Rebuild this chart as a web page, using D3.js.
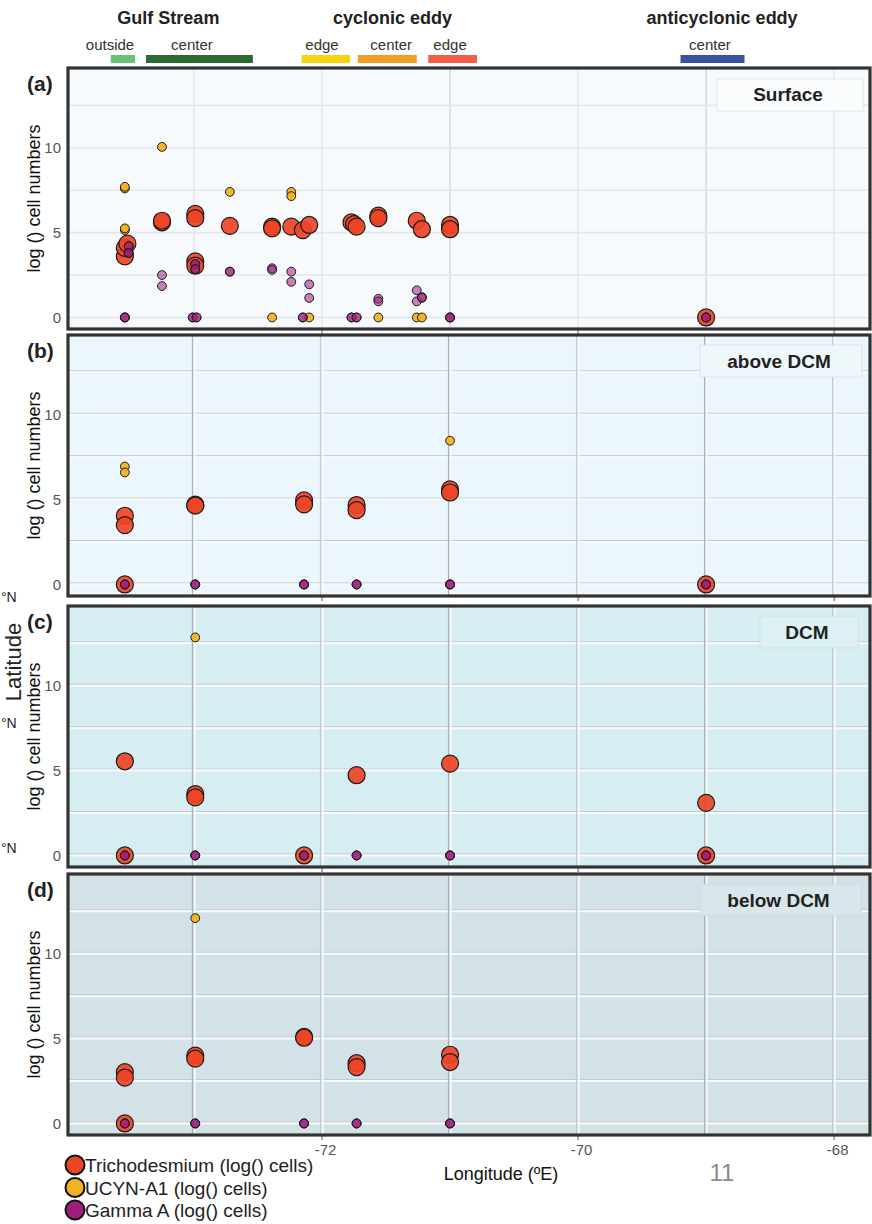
<!DOCTYPE html>
<html>
<head>
<meta charset="utf-8">
<script src="https://cdn.jsdelivr.net/npm/d3@7"></script>
<style>
  body { margin: 0; background: #fff; }
  svg { display: block; font-family: "Liberation Sans", Arial, sans-serif; }
</style>
</head>
<body>
<div id="chart"></div>
<script>
// depth layers, one facet each
var layers = ["Surface", "above DCM", "DCM", "below DCM"];
var layerTags = ["(a)", "(b)", "(c)", "(d)"];

// axis ticks
var lonTicks = [-72, -70, -68];
var lonGrid = [-73, -72, -71, -70, -69, -68];
var valueTicks = [0, 5, 10];
var valueGrid = [0, 2.5, 5, 7.5, 10, 12.5];

// header: regions and their zones (longitude spans)
var regions = ["Gulf Stream", "cyclonic eddy", "anticyclonic eddy"];
var regionLon = [-73.2, -71.45, -68.875];
var zones = ["outside", "center", "edge", "center", "edge", "center"];
var zoneLabelLon = [-73.656, -73.016, -72.0, -71.46, -71.0, -68.97];
var zoneStart = [-73.65, -73.375, -72.16, -71.72, -71.17, -69.2];
var zoneEnd = [-73.46, -72.54, -71.78, -71.26, -70.79, -68.7];
var zoneColors = ["#6bc276", "#2e6b32", "#f5d40f", "#f29e23", "#f25d4a", "#3953a4"];

// series, [longitude, log cell number] per layer
var trichoSurface = [[-73.54, 3.6], [-73.54, 4.1], [-73.52, 4.35], [-73.25, 5.6], [-73.25, 5.7],
  [-72.99, 6.1], [-72.99, 5.85], [-72.99, 3.3], [-72.99, 3.05], [-72.72, 5.4],
  [-72.39, 5.35], [-72.39, 5.25], [-72.24, 5.35], [-72.15, 5.15], [-72.1, 5.45],
  [-71.77, 5.6], [-71.75, 5.5], [-71.73, 5.35], [-71.56, 6.0], [-71.56, 5.85],
  [-71.26, 5.7], [-71.22, 5.2], [-71.0, 5.45], [-71.0, 5.2], [-69.0, 0]];
var ucynSurface = [[-73.54, 5.15], [-73.54, 5.25], [-73.54, 7.6], [-73.54, 7.7], [-73.25, 10.05],
  [-72.72, 7.4], [-72.39, 0], [-72.24, 7.4], [-72.24, 7.15], [-72.1, 0],
  [-71.56, 0], [-71.26, 0], [-71.22, 0]];
var gammaSurface = [[-73.54, 0], [-73.54, 0], [-73.54, 0], [-73.51, 4.2], [-73.51, 4.2], [-73.51, 3.8], [-73.51, 3.8],
  [-73.25, 2.5], [-73.25, 1.85], [-72.99, 3.15], [-72.99, 3.15], [-72.99, 2.85], [-72.99, 2.85],
  [-73.01, 0], [-73.01, 0], [-72.98, 0], [-72.98, 0], [-72.72, 2.7], [-72.72, 2.7],
  [-72.39, 2.9], [-72.39, 2.8], [-72.24, 2.7], [-72.24, 2.1], [-72.1, 1.95], [-72.1, 1.15],
  [-72.15, 0], [-72.15, 0], [-71.77, 0], [-71.77, 0], [-71.73, 0], [-71.73, 0],
  [-71.56, 1.1], [-71.56, 0.95], [-71.26, 1.6], [-71.26, 0.95], [-71.22, 1.2], [-71.22, 1.15],
  [-71.0, 0], [-71.0, 0], [-71.0, 0], [-69.0, 0], [-69.0, 0], [-69.0, 0]];

var trichoAbove = [[-73.54, 4.05], [-73.54, 3.5], [-73.54, 0], [-72.99, 4.7], [-72.99, 4.65],
  [-72.14, 4.95], [-72.14, 4.72], [-71.73, 4.68], [-71.73, 4.38], [-71.0, 5.6], [-71.0, 5.42], [-69.0, 0]];
var ucynAbove = [[-73.54, 6.95], [-73.54, 6.6], [-71.0, 8.47]];
var gammaAbove = [[-73.54, 0], [-73.54, 0], [-73.54, 0], [-72.99, 0], [-72.99, 0], [-72.99, 0],
  [-72.14, 0], [-72.14, 0], [-72.14, 0], [-71.73, 0], [-71.73, 0], [-71.73, 0],
  [-71.0, 0], [-71.0, 0], [-71.0, 0], [-69.0, 0], [-69.0, 0], [-69.0, 0]];

var trichoDCM = [[-73.54, 5.55], [-73.54, 0], [-72.99, 3.62], [-72.99, 3.42], [-72.14, 0],
  [-71.73, 4.73], [-71.0, 5.41], [-69.0, 3.1], [-69.0, 0]];
var ucynDCM = [[-72.99, 12.85]];
var gammaDCM = [[-73.54, 0], [-73.54, 0], [-73.54, 0], [-72.99, 0], [-72.99, 0], [-72.99, 0],
  [-72.14, 0], [-72.14, 0], [-72.14, 0], [-71.73, 0], [-71.73, 0], [-71.73, 0],
  [-71.0, 0], [-71.0, 0], [-71.0, 0], [-69.0, 0], [-69.0, 0], [-69.0, 0]];

var trichoBelow = [[-73.54, 3.02], [-73.54, 2.7], [-73.54, 0], [-72.99, 4.0], [-72.99, 3.82],
  [-72.14, 5.1], [-72.14, 5.05], [-71.73, 3.55], [-71.73, 3.32], [-71.0, 4.05], [-71.0, 3.62]];
var ucynBelow = [[-72.99, 12.1]];
var gammaBelow = [[-73.54, 0], [-73.54, 0], [-73.54, 0], [-72.99, 0], [-72.99, 0], [-72.99, 0],
  [-72.14, 0], [-72.14, 0], [-72.14, 0], [-71.73, 0], [-71.73, 0], [-71.73, 0],
  [-71.0, 0], [-71.0, 0], [-71.0, 0]];

var seriesNames = ["Trichodesmium (log() cells)", "UCYN-A1 (log() cells)", "Gamma A (log() cells)"];
var tricho = [trichoSurface, trichoAbove, trichoDCM, trichoBelow];
var ucyn = [ucynSurface, ucynAbove, ucynDCM, ucynBelow];
var gamma = [gammaSurface, gammaAbove, gammaDCM, gammaBelow];

// layout
var w = 872, h = 1224;
var left = 68, right = 870;
var panelTop = [68, 335, 606, 874];
var panelH = 261;
var panelFill = ["#f6fafd", "#ebf7fc", "#d6eef2", "#d3e2e6"];
var stripFill = ["#fafcfe", "#eef8fb", "#ddf1f4", "#d9e7ea"];
var stripBox = [[717, 863], [700, 862], [760, 858], [700, 861]];
var seriesFill = ["#ee4426", "#f0b323", "#9e1e7c"];
var seriesOpacity = [0.92, 0.95, 0.55];
var seriesR = [8.5, 4.4, 4.4];

var x = d3.scaleLinear().domain([-73.984, -67.72]).range([left, right]);
var y = d3.scaleLinear().domain([-0.68, 14.7]).range([panelH, 0]);

var svg = d3.select('#chart').append('svg')
  .attr('width', w)
  .attr('height', h);

// header with region names and coloured zone bars
svg.selectAll('text.region')
  .data(regions)
  .enter()
  .append('text')
  .attr('class', 'region')
  .attr('x', function(d, i){ return x(regionLon[i]); })
  .attr('y', 24)
  .attr('text-anchor', 'middle')
  .attr('font-size', '18px')
  .attr('font-weight', 'bold')
  .attr('fill', '#222')
  .text(function(d){ return d; });

svg.selectAll('text.zone')
  .data(zones)
  .enter()
  .append('text')
  .attr('class', 'zone')
  .attr('x', function(d, i){ return x(zoneLabelLon[i]); })
  .attr('y', 50)
  .attr('text-anchor', 'middle')
  .attr('font-size', '15px')
  .attr('fill', '#333')
  .text(function(d){ return d; });

svg.selectAll('rect.zone')
  .data(zones)
  .enter()
  .append('rect')
  .attr('class', 'zone')
  .attr('x', function(d, i){ return x(zoneStart[i]); })
  .attr('y', 55)
  .attr('width', function(d, i){ return x(zoneEnd[i]) - x(zoneStart[i]); })
  .attr('height', 8)
  .attr('fill', function(d, i){ return zoneColors[i]; });

// one facet per depth layer
layers.forEach(function(layer, k) {
  var g = svg.append('g').attr('transform', 'translate(0,' + panelTop[k] + ')');

  g.append('rect')
    .attr('x', left).attr('y', 0)
    .attr('width', right - left).attr('height', panelH)
    .attr('fill', panelFill[k]);

  // grid: panel (a) is plain, the others have the doubled white/grey look
  if (k == 0) {
    g.selectAll('line.vg').data(lonGrid).enter().append('line')
      .attr('x1', function(d){ return x(d); }).attr('x2', function(d){ return x(d); })
      .attr('y1', 0).attr('y2', panelH)
      .attr('stroke', function(d){ return (d == -71 || d == -69) ? '#cfd4d7' : '#e2e6e9'; })
      .attr('stroke-width', 1.3);
    g.selectAll('line.hg').data(valueGrid).enter().append('line')
      .attr('x1', left).attr('x2', right)
      .attr('y1', function(d){ return y(d); }).attr('y2', function(d){ return y(d); })
      .attr('stroke', '#e3e7ea')
      .attr('stroke-width', 1.6);
  } else {
    g.selectAll('line.hw').data(valueGrid).enter().append('line')
      .attr('x1', left).attr('x2', right)
      .attr('y1', function(d){ return y(d) - 1.5; }).attr('y2', function(d){ return y(d) - 1.5; })
      .attr('stroke', '#c3c8ca').attr('stroke-width', 1);
    g.selectAll('line.hg').data(valueGrid).enter().append('line')
      .attr('x1', left).attr('x2', right)
      .attr('y1', function(d){ return y(d); }).attr('y2', function(d){ return y(d); })
      .attr('stroke', '#f7fafb').attr('stroke-width', 2);
    g.selectAll('line.vw').data(lonGrid).enter().append('line')
      .attr('x1', function(d){ return x(d) - 1.5; }).attr('x2', function(d){ return x(d) - 1.5; })
      .attr('y1', 0).attr('y2', panelH)
      .attr('stroke', function(d){ return (d == -73 || d == -71 || d == -69) ? '#aeb2b4' : '#c6cbcd'; })
      .attr('stroke-width', 1.3);
    g.selectAll('line.vg').data(lonGrid).enter().append('line')
      .attr('x1', function(d){ return x(d) + 0.8; }).attr('x2', function(d){ return x(d) + 0.8; })
      .attr('y1', 0).attr('y2', panelH)
      .attr('stroke', '#f7fafb').attr('stroke-width', 1.6);
  }

  // facet strip label box
  g.append('rect')
    .attr('x', stripBox[k][0]).attr('y', k == 0 ? 11 : 10)
    .attr('width', stripBox[k][1] - stripBox[k][0]).attr('height', 32)
    .attr('fill', stripFill[k])
    .attr('stroke', '#c9d3d6').attr('stroke-opacity', 0.5);
  g.append('text')
    .attr('x', (stripBox[k][0] + stripBox[k][1]) / 2 - 2)
    .attr('y', 33)
    .attr('text-anchor', 'middle')
    .attr('font-size', '19px').attr('font-weight', 'bold')
    .attr('fill', '#222')
    .text(layer);

  // y axis: ticks labels only
  var yAxis = d3.axisLeft(y).tickValues(valueTicks).tickSize(0).tickPadding(6);
  g.append('g')
    .attr('transform', 'translate(' + (left - 1) + ',0)')
    .call(yAxis)
    .call(function(a){ a.select('.domain').remove(); })
    .selectAll('text')
    .attr('font-size', '15px')
    .attr('font-family', '"Liberation Sans", Arial, sans-serif')
    .attr('fill', '#555');

  // small ticks under each panel
  g.selectAll('line.bt').data(lonTicks).enter().append('line')
    .attr('x1', function(d){ return x(d); }).attr('x2', function(d){ return x(d); })
    .attr('y1', panelH).attr('y2', panelH + 5)
    .attr('stroke', '#777').attr('stroke-width', 1.2);

  // points: trichodesmium, then ucyn, then gamma on top
  [tricho[k], ucyn[k], gamma[k]].forEach(function(pts, s) {
    g.selectAll('circle.s' + s)
      .data(pts)
      .enter()
      .append('circle')
      .attr('class', 's' + s)
      .attr('cx', function(d){ return x(d[0]); })
      .attr('cy', function(d){ return y(d[1]); })
      .attr('r', seriesR[s])
      .attr('fill', seriesFill[s])
      .attr('fill-opacity', seriesOpacity[s])
      .attr('stroke', '#1a1a1a')
      .attr('stroke-width', s == 0 ? 1.2 : 1);
  });

  // frame
  g.append('rect')
    .attr('x', left).attr('y', 0)
    .attr('width', right - left).attr('height', panelH)
    .attr('fill', 'none')
    .attr('stroke', '#333').attr('stroke-width', 3.2);

  g.append('text')
    .attr('x', 27).attr('y', 23)
    .attr('font-size', '21px').attr('font-weight', 'bold')
    .attr('fill', '#222')
    .text(layerTags[k]);

  g.append('text')
    .attr('transform', 'translate(40,' + (panelH / 2) + ') rotate(-90)')
    .attr('text-anchor', 'middle')
    .attr('font-size', '18px')
    .attr('fill', '#111')
    .text('log () cell numbers');
});

// longitude axis under the last panel
var xAxis = d3.axisBottom(x).tickValues(lonTicks).tickSize(0).tickPadding(8)
  .tickFormat(function(d){ return '-' + Math.abs(d); });
svg.append('g')
  .attr('transform', 'translate(3,' + (panelTop[3] + panelH + 1) + ')')
  .call(xAxis)
  .call(function(a){ a.select('.domain').remove(); })
  .selectAll('text')
  .attr('font-size', '15px')
  .attr('font-family', '"Liberation Sans", Arial, sans-serif')
  .attr('fill', '#555');

svg.append('text')
  .attr('x', 501).attr('y', 1180)
  .attr('text-anchor', 'middle')
  .attr('font-size', '18px').attr('fill', '#111')
  .text('Longitude (ºE)');

svg.append('text')
  .attr('x', 722).attr('y', 1181)
  .attr('text-anchor', 'middle')
  .attr('font-size', '24px').attr('fill', '#8a8a8a')
  .text('11');

// leftovers of the map underneath
svg.append('text')
  .attr('transform', 'translate(21,662) rotate(-90)')
  .attr('text-anchor', 'middle')
  .attr('font-size', '22px').attr('fill', '#222')
  .text('Latitude');
svg.selectAll('text.lat')
  .data([602, 728, 853])
  .enter()
  .append('text')
  .attr('class', 'lat')
  .attr('x', 1).attr('y', function(d){ return d; })
  .attr('font-size', '14px').attr('fill', '#222')
  .text('°N');

// legend
var legend = svg.selectAll('g.legend')
  .data(seriesNames)
  .enter()
  .append('g')
  .attr('class', 'legend')
  .attr('transform', function(d, i){ return 'translate(75,' + (1165 + i * 22.5) + ')'; });
legend.append('circle')
  .attr('r', 9.5)
  .attr('fill', function(d, i){ return seriesFill[i]; })
  .attr('stroke', '#111').attr('stroke-width', 2);
legend.append('text')
  .attr('x', 10).attr('y', 7)
  .attr('font-size', '19px').attr('fill', '#222')
  .text(function(d){ return d; });
</script>
</body>
</html>
